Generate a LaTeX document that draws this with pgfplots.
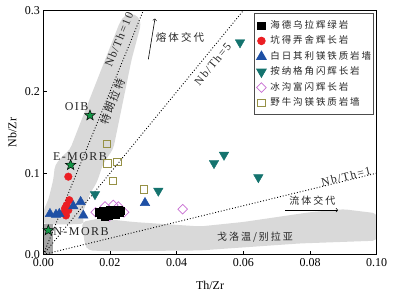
\documentclass[border=0pt]{standalone}
\usepackage{fontspec}
\setmainfont{Liberation Serif}
\newfontfamily\cjk{Noto Sans CJK SC}
\newfontfamily\cjksp[LetterSpace=20]{Noto Sans CJK SC}
\newfontfamily\spsf[LetterSpace=12]{Liberation Serif}
\usepackage{pgfplots}
\pgfplotsset{compat=1.18}
\definecolor{cred}{RGB}{235,30,35}
\definecolor{cblue}{RGB}{30,80,165}
\definecolor{cteal}{RGB}{20,115,110}
\definecolor{cpurp}{RGB}{200,110,210}
\definecolor{colive}{RGB}{150,145,70}
\definecolor{cgreen}{RGB}{20,150,70}
\pgfdeclareplotmark{fstar}{%
 \pgfpathmoveto{\pgfpointpolar{90}{\pgfplotmarksize}}%
 \pgfpathlineto{\pgfpointpolar{126}{0.42\pgfplotmarksize}}%
 \pgfpathlineto{\pgfpointpolar{162}{\pgfplotmarksize}}%
 \pgfpathlineto{\pgfpointpolar{198}{0.42\pgfplotmarksize}}%
 \pgfpathlineto{\pgfpointpolar{234}{\pgfplotmarksize}}%
 \pgfpathlineto{\pgfpointpolar{270}{0.42\pgfplotmarksize}}%
 \pgfpathlineto{\pgfpointpolar{306}{\pgfplotmarksize}}%
 \pgfpathlineto{\pgfpointpolar{342}{0.42\pgfplotmarksize}}%
 \pgfpathlineto{\pgfpointpolar{18}{\pgfplotmarksize}}%
 \pgfpathlineto{\pgfpointpolar{54}{0.42\pgfplotmarksize}}%
 \pgfpathclose\pgfusepathqfillstroke}
\begin{document}
\begin{tikzpicture}
\begin{axis}[
 scale only axis, width=333.4pt, height=244pt,
 xmin=0, xmax=0.1, ymin=0, ymax=0.3,
 xtick={0,0.02,0.04,0.06,0.08,0.1},
 xticklabels={0.00,0.02,0.04,0.06,0.08,0.10},
 ytick={0,0.1,0.2,0.3},
 yticklabels={0.0,0.1,0.2,0.3},
 tick pos=left, tick align=inside, major tick length=4pt,
 axis line style={line width=1pt},
 tick style={line width=0.8pt,black},
 ticklabel style={font=\fontsize{12}{14}\selectfont},
 scaled ticks=false,
 xlabel={Th/Zr}, ylabel={Nb/Zr},
 label style={font=\fontsize{12}{14}\selectfont},
 x label style={at={(axis description cs:0.5,-0.125)},anchor=center},
 y label style={at={(axis description cs:-0.093,0.5)},anchor=center},
 axis on top,
 legend cell align=left,
 legend style={at={(rel axis cs:0.992,0.9885)}, anchor=north east, draw=black!70, line width=0.8pt, fill=white,
   font=\cjksp\fontsize{9.5}{11}\selectfont, text=black!85, inner xsep=2.5pt, inner ysep=7pt, row sep=5.2pt,
   nodes={inner sep=0pt, text height=8pt, text depth=2pt, anchor=west, draw=none, fill=none}},
 legend image code/.code={\draw[#1] plot coordinates {(4pt,0pt)}; \path[draw=none,fill=none] (0pt,0pt) -- (13pt,0pt);},
]
% gray fields
\addplot[forget plot, fill=gray!30, draw=none, rounded corners=4pt] coordinates {
 (0.0262,0.2965) (0.0285,0.293) (0.0293,0.283) (0.0265,0.24) (0.024,0.19) (0.021,0.13) (0.018,0.112)
 (0.016,0.088) (0.014,0.075) (0.0115,0.048) (0.0125,0.038) (0.008,0.037) (0.003,0.037) (0.0,0.037)
 (0.0,0.054) (0.0015,0.067) (0.003,0.092) (0.0035,0.11) (0.006,0.122) (0.008,0.129) (0.0138,0.19)
 (0.0231,0.287) (0.0245,0.294)} -- cycle;
\addplot[forget plot, fill=gray!30, draw=none, rounded corners=4pt] coordinates {
 (0.0115,0.040) (0.017,0.0445) (0.027,0.040) (0.047,0.0345) (0.06,0.040) (0.08,0.052) (0.09,0.0557) (0.1,0.0507)
 (0.1,0.017) (0.077,0.0136) (0.047,0.005) (0.02,0.004) (0.0135,0.005) (0.0125,0.012)} -- cycle;
\addplot[forget plot, fill=gray!70, draw=none] coordinates {(0,0) (0.003,0) (0.003,0.037) (0,0.037)} -- cycle;
% reference lines
\addplot[forget plot, black, dotted, line width=0.9pt] coordinates {(0,0) (0.03,0.3)};
\addplot[forget plot, black, dotted, line width=0.9pt] coordinates {(0,0) (0.06,0.3)};
\addplot[forget plot, black, dotted, line width=0.9pt] coordinates {(0,0) (0.1,0.1)};
% annotations
\node[rotate=67.6, text=black!85, font=\spsf\fontsize{11.5}{13}\selectfont] at (axis cs:0.0227,0.264) {Nb/Th=10};
\node[rotate=67.6, text=black!85, font=\cjksp\fontsize{10.5}{12}\selectfont] at (axis cs:0.0208,0.188) {特朗拉特};
\node[rotate=50.5, text=black!85, font=\spsf\fontsize{11.5}{13}\selectfont] at (axis cs:0.0508,0.234) {Nb/Th=5};
\node[rotate=13.6, text=black!85, font=\spsf\fontsize{11.5}{13}\selectfont] at (axis cs:0.0908,0.096) {Nb/Th=1};
\node[text=black!85, font=\cjksp\fontsize{10.5}{12}\selectfont] at (axis cs:0.0410,0.267) {熔体交代};
\draw[->, line width=0.6pt] (axis cs:0.0315,0.24) -- (axis cs:0.0335,0.29);
\node[text=black!85, font=\cjksp\fontsize{10}{12}\selectfont] at (axis cs:0.0807,0.0668) {流体交代};
\draw[->, line width=0.6pt] (axis cs:0.0725,0.0545) -- (axis cs:0.0884,0.0545);
\node[text=black!85, font=\cjksp\fontsize{10}{12}\selectfont] at (axis cs:0.0635,0.021) {戈洛温/别拉亚};
\node[text=black!85, font=\spsf\fontsize{12}{14}\selectfont] at (axis cs:0.0100,0.182) {OIB};
\node[text=black!85, font=\spsf\fontsize{12}{14}\selectfont] at (axis cs:0.0110,0.121) {E-MORB};
\node[text=black!85, font=\spsf\fontsize{12}{14}\selectfont] at (axis cs:0.0113,0.0285) {N-MORB};
% stars
\addplot[forget plot, only marks, mark=fstar, mark size=5.5pt, mark options={draw=black, fill=cgreen, line width=0.5pt}]
 coordinates {(0.014,0.171) (0.0082,0.110) (0.0015,0.0297)};
% diamonds drawn beneath the black squares
\addplot[forget plot, only marks, mark=square, mark size=3.4pt, mark options={rotate=45, line width=0.7pt}, cpurp] coordinates {
 (0.0157,0.052) (0.0185,0.059) (0.021,0.061) (0.0225,0.059) (0.0242,0.052) (0.0198,0.047) (0.0418,0.0557)};
% data
\addplot[only marks, mark=square*, mark size=3.6pt, black] coordinates {
 (0.0167,0.052) (0.0172,0.049) (0.0178,0.054) (0.0183,0.050) (0.019,0.053) (0.0195,0.048) (0.020,0.052)
 (0.0205,0.055) (0.021,0.050) (0.0215,0.053) (0.022,0.051) (0.0225,0.055) (0.023,0.052) (0.0233,0.054)
 (0.0185,0.047) (0.0198,0.055) (0.0175,0.051) (0.0218,0.0485)};
\addlegendentry{海德乌拉辉绿岩}
\addplot[only marks, mark=*, mark size=3.8pt, cred] coordinates {
 (0.0075,0.0957) (0.0078,0.0668) (0.007,0.0606) (0.0065,0.0566) (0.0062,0.0504) (0.0068,0.048) (0.0075,0.0545) (0.0066,0.053)};
\addlegendentry{坑得弄舍辉长岩}
\addplot[only marks, mark=triangle*, mark size=5.5pt, cblue] coordinates {
 (0.002,0.050) (0.0038,0.049) (0.0048,0.050) (0.009,0.0595) (0.0112,0.0647) (0.012,0.048) (0.0305,0.0635)};
\addlegendentry{白日其利镁铁质岩墙}
\addplot[only marks, mark=triangle*, mark size=5.5pt, mark options={rotate=180}, cteal] coordinates {
 (0.0155,0.074) (0.0345,0.0783) (0.0512,0.1122) (0.0542,0.1225) (0.0645,0.0949) (0.059,0.2607)};
\addlegendentry{按纳格角闪辉长岩}
\addlegendimage{only marks, mark=square, mark size=3.4pt, mark options={rotate=45, line width=0.7pt}, cpurp}
\addlegendentry{冰沟富闪辉长岩}
\addplot[only marks, mark=square, mark size=3.6pt, mark options={line width=0.8pt}, colive] coordinates {
 (0.019,0.136) (0.0192,0.112) (0.0222,0.1135) (0.0208,0.0903) (0.0302,0.080)};
\addlegendentry{野牛沟镁铁质岩墙}
\coordinate (SW) at (rel axis cs:0,0);
\coordinate (NE) at (rel axis cs:1,1);
\end{axis}
\pgfresetboundingbox
\path[use as bounding box] ([shift={(-43.3pt,-40.5pt)}]SW) rectangle ([shift={(18.3pt,10.5pt)}]NE);
\end{tikzpicture}
\end{document}
